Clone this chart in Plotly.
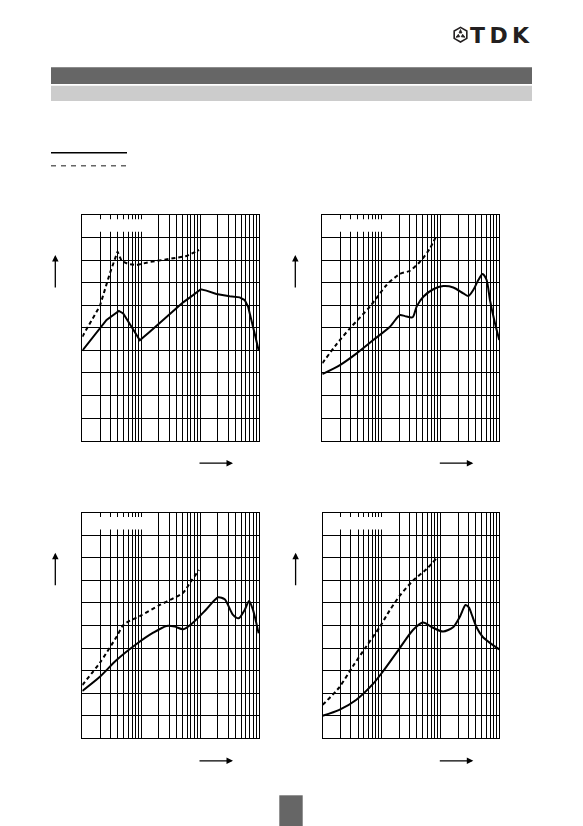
import math
import plotly.graph_objects as go

W, H = 583, 826
OFF = 8            # default page margin of the html body
FW, FH = W - OFF, H - OFF

# ---------------- data (frequency in MHz, value in grid divisions) ----------------
p1_solid_f = [1.0, 2.58, 4.18, 4.95, 6.85, 9.48, 14.0, 26.9, 51.5, 76.0, 102.6, 128, 189, 318, 470, 571, 652, 791, 990]
p1_solid_v = [3.99, 5.35, 5.75, 5.64, 5.05, 4.45, 4.83, 5.49, 6.13, 6.45, 6.71, 6.65, 6.50, 6.40, 6.35, 6.23, 5.94, 5.05, 3.99]
p1_dash_f = [1.0, 1.99, 2.94, 3.97, 4.65, 6.03, 8.34, 14.0, 34.8, 58.6, 96.2]
p1_dash_v = [4.61, 5.97, 7.42, 8.38, 7.96, 7.83, 7.78, 7.92, 8.08, 8.18, 8.45]

p2_solid_f = [1.0, 1.99, 3.82, 7.31, 14.0, 20.7, 25.2, 34.0, 39.7, 51.5, 76.0, 112, 166, 245, 299, 362, 441, 522, 610, 695, 845, 1000]
p2_solid_v = [2.95, 3.35, 3.87, 4.46, 5.05, 5.57, 5.52, 5.47, 5.94, 6.38, 6.71, 6.85, 6.79, 6.53, 6.41, 6.68, 7.12, 7.39, 7.12, 6.23, 5.20, 4.46]
p2_dash_f = [1.0, 1.75, 2.94, 6.43, 12.3, 20.7, 30.6, 45.2, 66.8, 86.7]
p2_dash_v = [3.43, 4.28, 4.98, 5.94, 6.90, 7.39, 7.53, 7.93, 8.52, 9.11]

p3_solid_f = [1.0, 1.99, 3.82, 8.34, 16.0, 26.9, 37.2, 51.5, 76.0, 128, 202, 262, 362, 452, 571, 678, 791, 986]
p3_solid_v = [2.10, 2.73, 3.47, 4.18, 4.68, 4.98, 4.95, 4.83, 5.13, 5.72, 6.25, 6.16, 5.47, 5.32, 5.69, 6.09, 5.69, 4.65]
p3_dash_f = [1.0, 1.99, 3.82, 5.08, 9.48, 20.7, 34.8, 51.5, 71.3, 96.2]
p3_dash_v = [2.36, 3.35, 4.50, 5.05, 5.42, 5.91, 6.20, 6.45, 6.99, 7.46]

p4_solid_f = [1.0, 1.92, 3.70, 7.11, 10.5, 20.3, 34.2, 50.7, 75.0, 111, 164, 214, 267, 304, 351, 411, 520, 693, 1000]
p4_solid_v = [1.00, 1.26, 1.70, 2.40, 2.95, 3.99, 4.80, 5.13, 4.90, 4.73, 4.92, 5.39, 5.91, 5.80, 5.39, 4.92, 4.50, 4.23, 3.94]
p4_dash_f = [1.0, 1.92, 3.24, 5.48, 9.25, 13.7, 20.3, 34.2, 57.7, 85.5]
p4_dash_v = [1.48, 2.26, 3.18, 4.06, 4.92, 5.66, 6.31, 6.99, 7.49, 7.98]

x_range_log = [0, 3]
y_range = [0, 10]
grid_x = [m * 10 ** k for k in range(3) for m in range(1, 10)] + [1000]


def X(px):
    return (px - OFF) / FW


def Y(py):
    return 1 - (py - OFF) / FH


# panel boxes in page pixels: left, right, top, bottom
panels = [
    (82.3, 259.0, 215.0, 440.7),
    (322.3, 499.3, 215.0, 440.7),
    (82.3, 259.0, 512.7, 738.3),
    (322.6, 499.3, 512.7, 738.3),
]
series = [
    (p1_solid_f, p1_solid_v, p1_dash_f, p1_dash_v, "linear"),
    (p2_solid_f, p2_solid_v, p2_dash_f, p2_dash_v, "spline"),
    (p3_solid_f, p3_solid_v, p3_dash_f, p3_dash_v, "spline"),
    (p4_solid_f, p4_solid_v, p4_dash_f, p4_dash_v, "spline"),
]

fig = go.Figure()
layout = dict(
    width=FW, height=FH, margin=dict(l=0, r=0, t=0, b=0),
    paper_bgcolor="white", plot_bgcolor="white", showlegend=False,
)
shapes = []
annotations = []

for i, ((l, r, t, b), (sf, sv, df, dv, shp)) in enumerate(zip(panels, series), start=1):
    xa = "x" if i == 1 else f"x{i}"
    ya = "y" if i == 1 else f"y{i}"
    fig.add_trace(go.Scatter(x=df, y=dv, mode="lines", xaxis=xa, yaxis=ya,
                             line=dict(color="black", width=2, dash="4px,3px",
                                       shape=shp, smoothing=0.7),
                             hoverinfo="skip"))
    fig.add_trace(go.Scatter(x=sf, y=sv, mode="lines", xaxis=xa, yaxis=ya,
                             line=dict(color="black", width=2, shape=shp, smoothing=0.7),
                             hoverinfo="skip"))
    common = dict(showticklabels=False, ticks="", showgrid=True, gridcolor="black",
                  gridwidth=1, showline=True, mirror=True, linecolor="black",
                  linewidth=1, zeroline=False, fixedrange=True)
    layout["xaxis" if i == 1 else f"xaxis{i}"] = dict(
        domain=[X(l), X(r)], type="log", range=x_range_log, tickvals=grid_x,
        anchor=ya, **common)
    layout["yaxis" if i == 1 else f"yaxis{i}"] = dict(
        domain=[Y(b), Y(t)], range=y_range, dtick=1, tick0=0,
        anchor=xa, **common)
    # blank label box inside the grid (top-left)
    shapes.append(dict(type="rect", xref="paper", yref="paper", layer="above",
                       x0=X(l + 1.2), x1=X(l + 75.6), y0=Y(t + 16.8), y1=Y(t + 4.3),
                       fillcolor="white", line=dict(width=0)))
    # axis arrows
    vx = l - 27
    annotations.append(dict(xref="paper", yref="paper", x=X(vx), y=Y(t + 40),
                            ax=0, ay=34, text="", showarrow=True, arrowhead=2,
                            arrowsize=1, arrowwidth=1.3, arrowcolor="black"))
    annotations.append(dict(xref="paper", yref="paper", x=X(r - 26), y=Y(b + 22.5),
                            ax=-35, ay=0, text="", showarrow=True, arrowhead=2,
                            arrowsize=1, arrowwidth=1.3, arrowcolor="black"))

# header bars
shapes.append(dict(type="rect", xref="paper", yref="paper", x0=X(51), x1=X(532),
                   y0=Y(84), y1=Y(67.3), fillcolor="#666666", line=dict(width=0)))
shapes.append(dict(type="rect", xref="paper", yref="paper", x0=X(51), x1=X(532),
                   y0=Y(101), y1=Y(85.7), fillcolor="#cccccc", line=dict(width=0)))
# legend lines
shapes.append(dict(type="line", xref="paper", yref="paper", x0=X(51), x1=X(127),
                   y0=Y(152.7), y1=Y(152.7), line=dict(color="black", width=1.5)))
shapes.append(dict(type="line", xref="paper", yref="paper", x0=X(51), x1=X(127),
                   y0=Y(165.7), y1=Y(165.7),
                   line=dict(color="#666666", width=1.5, dash="5px,5px")))
# page number box
shapes.append(dict(type="rect", xref="paper", yref="paper", x0=X(279.3), x1=X(302.7),
                   y0=Y(826), y1=Y(795.3), fillcolor="#666666", line=dict(width=0)))

# TDK logo symbol (approximate)
cx, cy, rr = 460.5, 34.7, 7.3
hexpts = []
for k in range(6):
    a = math.radians(90 + 60 * k)
    hexpts.append((cx + rr * math.cos(a), cy - rr * math.sin(a)))
path = "M " + " L ".join(f"{X(px):.5f},{Y(py):.5f}" for px, py in hexpts) + " Z"
shapes.append(dict(type="path", xref="paper", yref="paper", path=path,
                   line=dict(color="#231f20", width=1.6), fillcolor="white"))
for k in range(3):
    a = math.radians(90 + 120 * k)
    pts = []
    for da, rad in ((0, 5.2), (40, 2.2), (-40, 2.2)):
        aa = a + math.radians(da)
        pts.append((cx + rad * math.cos(aa), cy - rad * math.sin(aa)))
    p = "M " + " L ".join(f"{X(px):.5f},{Y(py):.5f}" for px, py in pts) + " Z"
    shapes.append(dict(type="path", xref="paper", yref="paper", path=p,
                       line=dict(color="#231f20", width=0.8), fillcolor="#231f20"))

annotations.append(dict(xref="paper", yref="paper", x=X(468), y=Y(35),
                        xanchor="left", yanchor="middle", showarrow=False,
                        text="<b>T\u2009D\u2009K</b>",
                        font=dict(family="DejaVu Sans", size=22, color="#231f20")))

layout["shapes"] = shapes
layout["annotations"] = annotations
fig.update_layout(**layout)
fig.write_html("out.html")
